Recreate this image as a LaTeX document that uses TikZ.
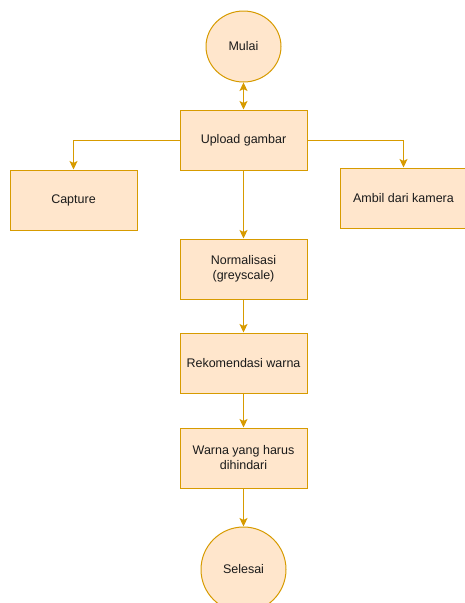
\documentclass[tikz,border=0pt]{standalone}
\usepackage{fontspec}
\setmainfont{Liberation Sans}
\usepackage{xcolor}
\usetikzlibrary{shapes.geometric}
\usetikzlibrary{arrows.meta}
\usetikzlibrary{positioning}
\tikzset{>={Stealth[length=8.5pt,width=8pt,inset=2pt]}}
\definecolor{boxfill}{HTML}{FFE6CC}
\definecolor{boxline}{HTML}{D79B00}
\definecolor{boxtext}{HTML}{1A1A1A}
\tikzset{
    stepbox/.style={draw=boxline, fill=boxfill, line width=1pt, rectangle, minimum width=127pt, minimum height=60pt, inner sep=2pt, align=center, text=boxtext, font=\fontsize{12.5}{15}\selectfont},
    endbox/.style={draw=boxline, fill=boxfill, line width=1pt, ellipse, inner sep=0pt, text=boxtext, font=\fontsize{12.5}{15}\selectfont},
    flow/.style={->, draw=boxline, line width=1pt}
}

\begin{document}
\begin{tikzpicture}[x=1pt,y=-1pt]
    \useasboundingbox (0,0) rectangle (465,603);
    \node[endbox, minimum width=75pt, minimum height=71pt] (mulai) at (243.5,46.5) {Mulai};
    \node[stepbox] (upload) at (243.5,140) {Upload gambar};
    \node[stepbox] (capture) at (73.5,200) {Capture};
    \node[stepbox] (ambil) at (403.5,198) {Ambil dari kamera};
    \node[stepbox] (norm) at (243.5,269) {Normalisasi\\(greyscale)};
    \node[stepbox] (rekom) at (243.5,363) {Rekomendasi warna};
    \node[stepbox] (hindar) at (243.5,458) {Warna yang harus\\dihindari};
    \node[endbox, minimum width=85pt, minimum height=85pt] (selesai) at (243.5,569.5) {Selesai};

    \draw[flow, <->] (mulai) -- (upload);
    \draw[flow] (upload.west) -| (capture.north);
    \draw[flow] (upload.east) -| (ambil.north);
    \draw[flow] (upload) -- (norm);
    \draw[flow] (norm) -- (rekom);
    \draw[flow] (rekom) -- (hindar);
    \draw[flow] (hindar) -- (selesai);
\end{tikzpicture}
\end{document}
